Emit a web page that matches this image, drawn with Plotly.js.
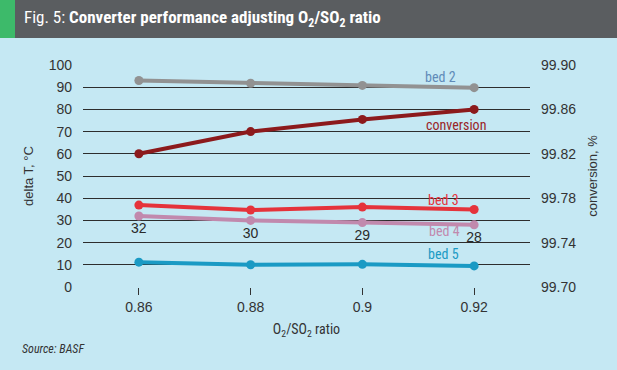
<!DOCTYPE html>
<html><head><meta charset="utf-8">
<script src="https://cdn.plot.ly/plotly-3.0.1.min.js"></script>
<style>html,body{margin:0;padding:0;background:#c5e8f3;}#chart{width:617px;height:370px;}</style>
</head><body><div id="chart"></div>
<script>
const categories = ["0.86", "0.88", "0.9", "0.92"];
const bed2 = [93, 91.8, 90.8, 89.8];
const bed3 = [36.9, 34.7, 36, 34.9];
const bed4 = [32, 30, 29, 28];
const bed5 = [11.2, 10, 10.2, 9.5];
const conversion = [99.82, 99.84, 99.851, 99.86];
const bed4Labels = ["32", "30", "29", "28"];
const rightTicks = [99.70, 99.74, 99.78, 99.82, 99.86, 99.90];

const W = 617, H = 370, L = 83, R = 87, T = 65, B = 83;
const pw = W - L - R, ph = H - T - B;
const px = x => (x - L) / pw;
const py = y => (H - B - y) / ph;

const cond = "Roboto Condensed, Liberation Sans Narrow, Roboto, Arial, sans-serif";
const reg = "Liberation Sans, Arial, sans-serif";

function tr(y, color, width, axis, name, extra) {
  return Object.assign({
    x: categories, y: y, type: 'scatter', mode: 'lines+markers', name: name,
    yaxis: axis, line: {color: color, width: width}, marker: {color: color, size: 9},
    hoverinfo: 'skip', cliponaxis: false
  }, extra || {});
}

const data = [
  tr(bed5, '#1a9ac4', 4, 'y', 'bed 5'),
  tr(bed4, '#c189ad', 4, 'y', 'bed 4', {mode: 'lines+markers+text', text: bed4Labels,
     textposition: 'bottom center', textfont: {family: reg, size: 14, color: '#2a2a2a'}}),
  tr(bed3, '#e5333b', 4, 'y', 'bed 3'),
  tr(bed2, '#929292', 4, 'y', 'bed 2'),
  tr(conversion, '#8c1a1c', 4, 'y2', 'conversion')
];

const layout = {
  width: W, height: H,
  margin: {l: L, r: R, t: T, b: B, pad: 0},
  paper_bgcolor: '#c5e8f3', plot_bgcolor: '#c5e8f3',
  showlegend: false,
  font: {family: reg, color: '#333'},
  xaxis: {type: 'category', range: [-0.5, 3.5], showgrid: false, zeroline: false, showline: false,
    ticks: 'outside', ticklen: 7, tickcolor: '#333', tickwidth: 1,
    tickfont: {family: reg, size: 14, color: '#333'},
    title: {text: 'O<sub>2</sub>/SO<sub>2</sub> ratio', font: {family: cond, size: 14, color: '#333'}, standoff: 10}},
  yaxis: {range: [0, 100], dtick: 10, showgrid: true, gridcolor: '#2d2d2d', gridwidth: 1,
    zeroline: false, showline: false, ticks: '', ticklabelstandoff: 10,
    tickfont: {family: reg, size: 14, color: '#333'},
    title: {text: 'delta T, °C', font: {family: reg, size: 13, color: '#333'}, standoff: 12}},
  yaxis2: {overlaying: 'y', side: 'right', range: [99.70, 99.90], tickmode: 'array', tickvals: rightTicks,
    ticktext: rightTicks.map(v => v.toFixed(2)),
    showgrid: false, zeroline: false, showline: false, ticks: '', ticklabelstandoff: 10,
    tickfont: {family: reg, size: 14, color: '#333'},
    title: {text: 'conversion, %', font: {family: reg, size: 13, color: '#333'}, standoff: 12}},
  shapes: [
    {type: 'rect', xref: 'paper', yref: 'paper', x0: px(0), x1: px(W), y0: py(38), y1: py(0),
     fillcolor: '#5a5d60', line: {width: 0}, layer: 'below'},
    {type: 'rect', xref: 'paper', yref: 'paper', x0: px(0), x1: px(15), y0: py(38), y1: py(0),
     fillcolor: '#3dba6a', line: {width: 0}, layer: 'below'}
  ],
  annotations: [
    {xref: 'paper', yref: 'paper', x: px(22), y: py(19), xanchor: 'left', yanchor: 'middle', showarrow: false,
     text: 'Fig. 5: <b>Converter performance adjusting O<sub>2</sub>/SO<sub>2</sub> ratio</b>',
     font: {family: cond, size: 17, color: '#ffffff'}},
    {xref: 'paper', yref: 'paper', x: px(20), y: py(349), xanchor: 'left', yanchor: 'middle', showarrow: false,
     text: '<i>Source: BASF</i>', font: {family: cond, size: 12, color: '#333'}},
    {xref: 'paper', yref: 'paper', x: px(440), y: py(77), xanchor: 'center', yanchor: 'middle', showarrow: false,
     text: 'bed 2', font: {family: cond, size: 14, color: '#5f8bb8'}},
    {xref: 'paper', yref: 'paper', x: px(456), y: py(125), xanchor: 'center', yanchor: 'middle', showarrow: false,
     text: 'conversion', font: {family: cond, size: 14, color: '#9a2428'}},
    {xref: 'paper', yref: 'paper', x: px(443), y: py(200), xanchor: 'center', yanchor: 'middle', showarrow: false,
     text: 'bed 3', font: {family: cond, size: 14, color: '#e5333b'}},
    {xref: 'paper', yref: 'paper', x: px(444), y: py(231), xanchor: 'center', yanchor: 'middle', showarrow: false,
     text: 'bed 4', font: {family: cond, size: 14, color: '#c189ad'}},
    {xref: 'paper', yref: 'paper', x: px(443), y: py(254), xanchor: 'center', yanchor: 'middle', showarrow: false,
     text: 'bed 5', font: {family: cond, size: 14, color: '#1a9ac4'}}
  ]
};

Plotly.newPlot('chart', data, layout, {staticPlot: true, displayModeBar: false});
</script></body></html>
